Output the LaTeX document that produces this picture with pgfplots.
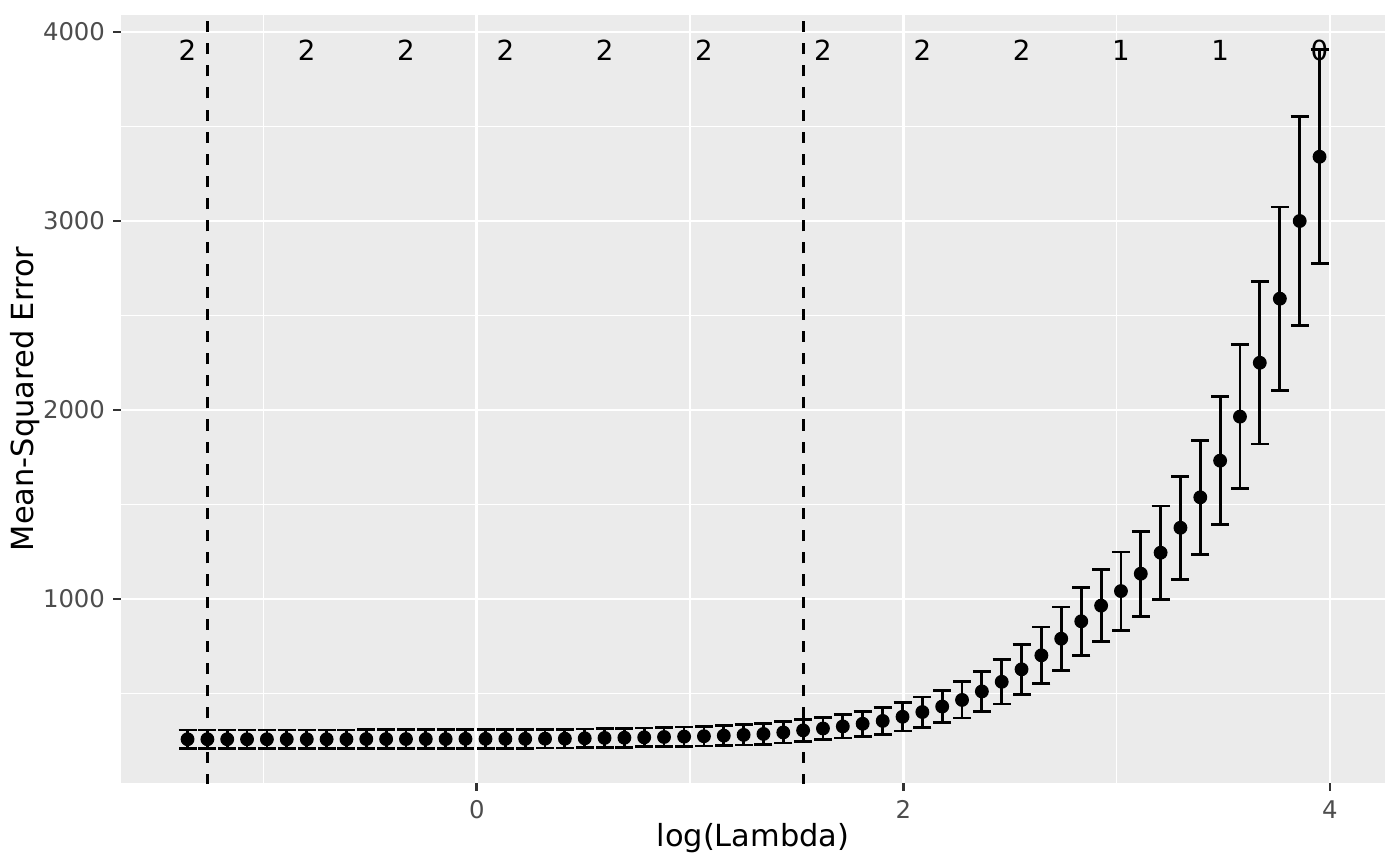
\documentclass[border=0pt]{standalone}
\usepackage{fontspec}
\setmainfont{DejaVu Sans}
\usepackage{pgfplots}
\usepackage{pgfplotstable}
\pgfplotsset{compat=1.18}
\definecolor{panelbg}{HTML}{EBEBEB}
\definecolor{grey30}{HTML}{4D4D4D}
\definecolor{grey20}{HTML}{333333}

\pgfplotstableread{
x y e
-1.356 258 49
-1.263 258 49
-1.170 258 49
-1.077 258 49
-0.984 258 49
-0.891 258 49
-0.797 258 49
-0.704 258 49
-0.611 258 49
-0.518 259 49
-0.425 259 49
-0.332 259 49
-0.239 259 49
-0.146 259 49
-0.053 260 49
0.041 260 49
0.134 260 49
0.227 260 49
0.320 261 49
0.413 261 49
0.506 263 49
0.599 265 50
0.692 266 50
0.785 268 50
0.878 270 51
0.972 272 51
1.065 274 52
1.158 277 52
1.251 281 53
1.344 286 54
1.437 294 56
1.530 305 57
1.623 315 59
1.716 326 62
1.809 340 66
1.903 355 70
1.996 377 75
2.089 402 80
2.182 431 86
2.275 466 96
2.368 511 107
2.461 562 118
2.554 628 133
2.647 702 150
2.740 790 168
2.834 882 179
2.927 965 190
3.020 1042 207
3.113 1134 225
3.206 1245 247
3.299 1377 273
3.392 1538 302
3.485 1732 338
3.578 1965 381
3.671 2250 430
3.765 2589 485
3.858 3000 551
3.951 3340 566
}\cvdata

\pgfplotstableread{
x y lab
-1.356 3905 2
-0.797 3905 2
-0.332 3905 2
0.134 3905 2
0.599 3905 2
1.065 3905 2
1.623 3905 2
2.089 3905 2
2.554 3905 2
3.020 3905 1
3.485 3905 1
3.951 3905 0
}\nzdata

\begin{document}
\begin{tikzpicture}
\path[use as bounding box] (0,0) rectangle (7in,4.33in);
\begin{axis}[
  at={(0.605in,0.415in)}, anchor=south west,
  scale only axis,
  width=6.32in, height=3.84in,
  xmin=-1.668, xmax=4.258,
  ymin=26.5, ymax=4090,
  xtick={0,2,4},
  ytick={1000,2000,3000,4000},
  minor xtick={-1,1,3},
  minor ytick={500,1500,2500,3500},
  grid=both,
  major grid style={white, line width=1.07pt},
  minor grid style={white, line width=0.53pt},
  axis background/.style={fill=panelbg},
  axis line style={draw=none},
  tick align=outside,
  tick pos=left,
  major tick length=2.75pt,
  minor tick length=0pt,
  major tick style={grey20, line width=1.07pt},
  /pgf/number format/assume math mode=true,
  /pgf/number format/1000 sep={},
  ticklabel style={font=\fontsize{8.8}{10}\selectfont, text=grey30},
  xticklabel style={yshift=0pt},
  yticklabel style={xshift=0.5pt},
  xlabel={log(Lambda)},
  ylabel={Mean-Squared Error},
  label style={font=\fontsize{11}{13}\selectfont},
  xlabel style={at={(axis description cs:0.5,-0.0829)}, anchor=base},
  ylabel style={at={(axis description cs:-0.0759,0.5)}, anchor=center, rotate=0},
  clip=true,
]
\addplot[black, line width=1pt, dash pattern=on 4pt off 4pt] coordinates {(-1.263,-100) (-1.263,5000)};
\addplot[black, line width=1pt, dash pattern=on 4pt off 4pt] coordinates {(1.530,-100) (1.530,5000)};
\addplot[draw=none, mark=none,
  error bars/.cd, y dir=both, y explicit,
  error bar style={black, line width=1pt},
  error mark options={black, line width=1pt, mark size=3.25pt, rotate=90}]
  table[x=x, y=y, y error=e] {\cvdata};
\addplot[only marks, mark=*, mark size=2.3pt, black] table[x=x, y=y] {\cvdata};
\addplot[only marks, mark=none, nodes near coords, point meta=explicit symbolic,
  nodes near coords style={anchor=center, font=\fontsize{10}{12}\selectfont, text=black, inner sep=0pt}]
  table[x=x, y=y, meta=lab] {\nzdata};
\end{axis}
\end{tikzpicture}
\end{document}
